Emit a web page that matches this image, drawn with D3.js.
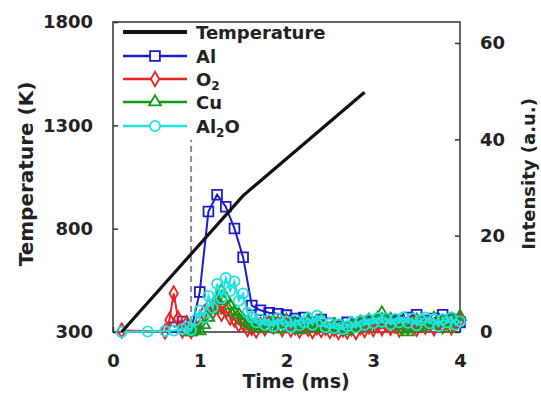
<!DOCTYPE html>
<html>
<head>
<meta charset="utf-8">
<script src="https://cdn.jsdelivr.net/npm/d3@7"></script>
<style>
  html, body { margin: 0; padding: 0; background: #fff; }
  svg text { font-family: "DejaVu Sans", sans-serif; font-weight: bold; fill: #222; }
</style>
</head>
<body>
<script>
// Temperature trace (left axis)
const tempTime = [0.1, 1.5, 2.9];
const tempValues = [300, 960, 1460];

// Al signal, sampled every 0.1 ms (right axis)
const alTime = [0.7, 0.8, 0.9, 1.0, 1.1, 1.2, 1.3, 1.4, 1.5, 1.6, 1.7, 1.8, 1.9, 2.0,
  2.1, 2.2, 2.3, 2.4, 2.5, 2.6, 2.7, 2.8, 2.9, 3.0, 3.1, 3.2, 3.3, 3.4, 3.5, 3.6, 3.7, 3.8, 3.9, 4.0];
const alValues = [1.0, 2.2, 0.3, 8.3, 25, 28.5, 26, 21.5, 15.5, 5.5, 4.5, 4.0, 3.8, 3.5,
  2.8, 3.0, 2.0, 2.6, 1.8, 1.2, 2.0, 1.5, 2.2, 1.8, 2.6, 2.0, 2.4, 3.0, 3.6, 2.4, 2.8, 3.6, 2.6, 2.0];

// O2, Cu and Al2O signals, sampled every 0.05 ms (null = no sample)
const fineTime = [0.10, 0.15, 0.20, 0.25, 0.30, 0.35, 0.40, 0.45, 0.50, 0.55,
  0.60, 0.65, 0.70, 0.75, 0.80, 0.85, 0.90, 0.95, 1.00, 1.05,
  1.10, 1.15, 1.20, 1.25, 1.30, 1.35, 1.40, 1.45, 1.50, 1.55,
  1.60, 1.65, 1.70, 1.75, 1.80, 1.85, 1.90, 1.95, 2.00, 2.05,
  2.10, 2.15, 2.20, 2.25, 2.30, 2.35, 2.40, 2.45, 2.50, 2.55,
  2.60, 2.65, 2.70, 2.75, 2.80, 2.85, 2.90, 2.95, 3.00, 3.05,
  3.10, 3.15, 3.20, 3.25, 3.30, 3.35, 3.40, 3.45, 3.50, 3.55,
  3.60, 3.65, 3.70, 3.75, 3.80, 3.85, 3.90, 3.95, 4.00];

const o2Values = [0.3, null, null, null, null, null, null, null, null, null,
  0.1, 2.5, 8.0, 2.8, 0.3, 1.8, 0.2, 1.0, 2.5, 4.0,
  5.2, 4.2, 5.8, 3.8, 4.5, 3.0, 2.6, 1.6, 1.8, 0.6,
  0.9, 0.3, 1.5, 0.8, 2.0, 1.2, 1.8, 0.6, 1.4, 0.5,
  1.0, 0.3, 1.2, 0.7, 0.2, 1.0, 0.4, 0.9, 0.2, 0.6,
  0.0, 0.5, 0.1, 0.8, 0.0, 1.0, 0.4, 1.2, 0.6, 1.4,
  0.8, 1.5, 0.9, 1.3, 0.5, 1.6, 1.0, 1.8, 0.7, 1.5,
  1.1, 1.9, 0.8, 1.6, 1.2, 2.0, 1.0, 1.7, 2.5];

const cuValues = [null, null, null, null, null, null, null, null, null, null,
  null, null, null, null, null, null, 0.0, 0.3, 0.2, 1.5,
  3.0, 4.6, 6.5, 8.5, 7.0, 5.5, 4.2, 3.6, 2.6, 2.0,
  1.2, 1.6, 0.8, 1.8, 1.0, 2.2, 0.6, 1.5, 2.4, 1.0,
  1.8, 0.5, 1.6, 2.2, 0.8, 1.4, 2.6, 1.2, 0.6, 1.5,
  0.4, 1.0, 0.2, 1.4, 0.9, 2.0, 1.2, 2.4, 1.6, 2.8,
  3.9, 1.8, 2.6, 1.2, 2.2, 0.6, 0.0, 1.5, 2.4, 1.0,
  2.0, 1.4, 2.8, 1.6, 2.2, 0.8, 2.5, 1.9, 3.2];

const al2oValues = [0.0, null, null, null, null, null, 0.1, null, null, null,
  0.2, null, 0.3, null, 0.6, 1.0, 0.4, 2.5, 4.5, 3.0,
  7.5, 5.0, 10.0, 7.0, 11.2, 8.5, 10.5, 6.5, 8.0, 4.0,
  3.0, 2.0, 2.6, 1.5, 2.4, 1.2, 2.8, 1.6, 2.2, 1.0,
  2.5, 1.4, 2.0, 2.9, 1.5, 3.4, 2.2, 1.0, 1.8, 0.8,
  1.6, 0.6, 1.2, 2.0, 0.9, 2.3, 1.5, 2.6, 1.8, 2.9,
  2.1, 2.8, 1.6, 2.7, 2.0, 3.0, 1.9, 2.8, 1.4, 2.5,
  3.0, 1.8, 2.7, 1.2, 2.6, 2.0, 3.0, 1.5, 2.2];

// Axis ticks and ignition marker
const xTicks = [0, 1, 2, 3, 4];
const tempTicks = [300, 800, 1300, 1800];
const intensityTicks = [0, 20, 40, 60];
const onsetTime = 0.9;
const onsetTempRange = [300, 1230];

const W = 541, H = 394;
const plot = { left: 113, right: 460, top: 22, bottom: 332 };

const svg = d3.select("body").append("svg")
  .attr("width", W).attr("height", H);

const x = d3.scaleLinear().domain([0, 4]).range([plot.left, plot.right]);
const yT = d3.scaleLinear().domain([300, 1800]).range([plot.bottom, plot.top]);
const yI = d3.scaleLinear().domain([0, 64.35]).range([plot.bottom, plot.top]);

// Axes with inward ticks
const axisStyle = g => {
  g.select(".domain").remove();
  g.selectAll(".tick line").attr("stroke", "#333").attr("stroke-width", 1.5);
  g.selectAll(".tick text").style("font-size", "18px").attr("fill", "#222");
};

svg.append("g").attr("transform", `translate(${plot.left},0)`)
  .call(d3.axisLeft(yT).tickValues(tempTicks).tickSize(-5).tickPadding(20).tickFormat(d3.format("d")))
  .call(axisStyle);

svg.append("g").attr("transform", `translate(${plot.right},0)`)
  .call(d3.axisRight(yI).tickValues(intensityTicks).tickSize(-5).tickPadding(20).tickFormat(d3.format("d")))
  .call(axisStyle);

svg.append("g").attr("transform", `translate(0,${plot.bottom})`)
  .call(d3.axisBottom(x).tickValues(xTicks).tickSize(-5).tickPadding(22).tickFormat(d3.format("d")))
  .call(axisStyle);

// Plot frame
svg.append("rect")
  .attr("x", plot.left).attr("y", plot.top)
  .attr("width", plot.right - plot.left).attr("height", plot.bottom - plot.top)
  .attr("fill", "none").attr("stroke", "#333").attr("stroke-width", 1.5);

// Axis titles
svg.append("text")
  .attr("transform", `translate(33,174) rotate(-90)`)
  .attr("text-anchor", "middle").style("font-size", "20px")
  .text("Temperature (K)");

svg.append("text")
  .attr("transform", `translate(535,174) rotate(-90)`)
  .attr("text-anchor", "middle").style("font-size", "18px")
  .text("Intensity (a.u.)");

svg.append("text")
  .attr("x", 296).attr("y", 388)
  .attr("text-anchor", "middle").style("font-size", "19px")
  .text("Time (ms)");

// Ignition onset marker
svg.append("line")
  .attr("x1", x(onsetTime)).attr("x2", x(onsetTime))
  .attr("y1", yT(onsetTempRange[0])).attr("y2", yT(onsetTempRange[1]))
  .attr("stroke", "#8a8a8a").attr("stroke-width", 2).attr("stroke-dasharray", "6,4");

// Intensity series
const series = [
  { name: "Al", time: alTime, values: alValues, color: "#1c1ccc", symbol: d3.symbolSquare, size: 95 },
  { name: "O2", time: fineTime, values: o2Values, color: "#ee2222", symbol: d3.symbolDiamond, size: 60 },
  { name: "Cu", time: fineTime, values: cuValues, color: "#139a13", symbol: d3.symbolTriangle, size: 60 },
  { name: "Al2O", time: fineTime, values: al2oValues, color: "#1fe3e3", symbol: d3.symbolCircle, size: 80 }
];

const lineGen = d3.line().x(d => x(d.t)).y(d => yI(d.v));

series.forEach(s => {
  const pts = s.time.map((t, i) => ({ t, v: s.values[i] })).filter(d => d.v !== null);
  const g = svg.append("g");
  g.append("path").datum(pts)
    .attr("d", lineGen)
    .attr("fill", "none").attr("stroke", s.color).attr("stroke-width", 2);
  g.selectAll("path.mk").data(pts).join("path")
    .attr("class", "mk")
    .attr("transform", d => `translate(${x(d.t)},${yI(d.v)})`)
    .attr("d", d3.symbol().type(s.symbol).size(s.size))
    .attr("fill", "none").attr("stroke", s.color).attr("stroke-width", 1.8);
});

// Temperature trace
const tempPts = tempTime.map((t, i) => ({ t, v: tempValues[i] }));
svg.append("path").datum(tempPts)
  .attr("d", d3.line().x(d => x(d.t)).y(d => yT(d.v)))
  .attr("fill", "none").attr("stroke", "#111").attr("stroke-width", 3.2);

// Legend
const legendRows = [
  { label: "Temperature", color: "#111", width: 4, symbol: null },
  { label: "Al", color: "#1c1ccc", width: 2.5, symbol: d3.symbolSquare, size: 95 },
  { label: ["O", "2", ""], color: "#ee2222", width: 2.5, symbol: d3.symbolDiamond, size: 60 },
  { label: "Cu", color: "#139a13", width: 2.5, symbol: d3.symbolTriangle, size: 60 },
  { label: ["Al", "2", "O"], color: "#1fe3e3", width: 2.5, symbol: d3.symbolCircle, size: 80 }
];
const legendY = [32, 56, 79, 102, 126];

legendRows.forEach((r, i) => {
  const yy = legendY[i];
  const g = svg.append("g");
  g.append("line").attr("x1", 123).attr("x2", 187).attr("y1", yy).attr("y2", yy)
    .attr("stroke", r.color).attr("stroke-width", r.width);
  if (r.symbol) {
    g.append("path").attr("transform", `translate(155,${yy})`)
      .attr("d", d3.symbol().type(r.symbol).size(r.size))
      .attr("fill", "#fff").attr("stroke", r.color).attr("stroke-width", 1.8);
  }
  const t = g.append("text").attr("x", 196).attr("y", yy + 6.5).style("font-size", "18px");
  if (Array.isArray(r.label)) {
    t.append("tspan").text(r.label[0]);
    t.append("tspan").attr("dy", 4).style("font-size", "12px").text(r.label[1]);
    if (r.label[2]) t.append("tspan").attr("dy", -4).text(r.label[2]);
  } else {
    t.text(r.label);
  }
});
</script>
</body>
</html>
